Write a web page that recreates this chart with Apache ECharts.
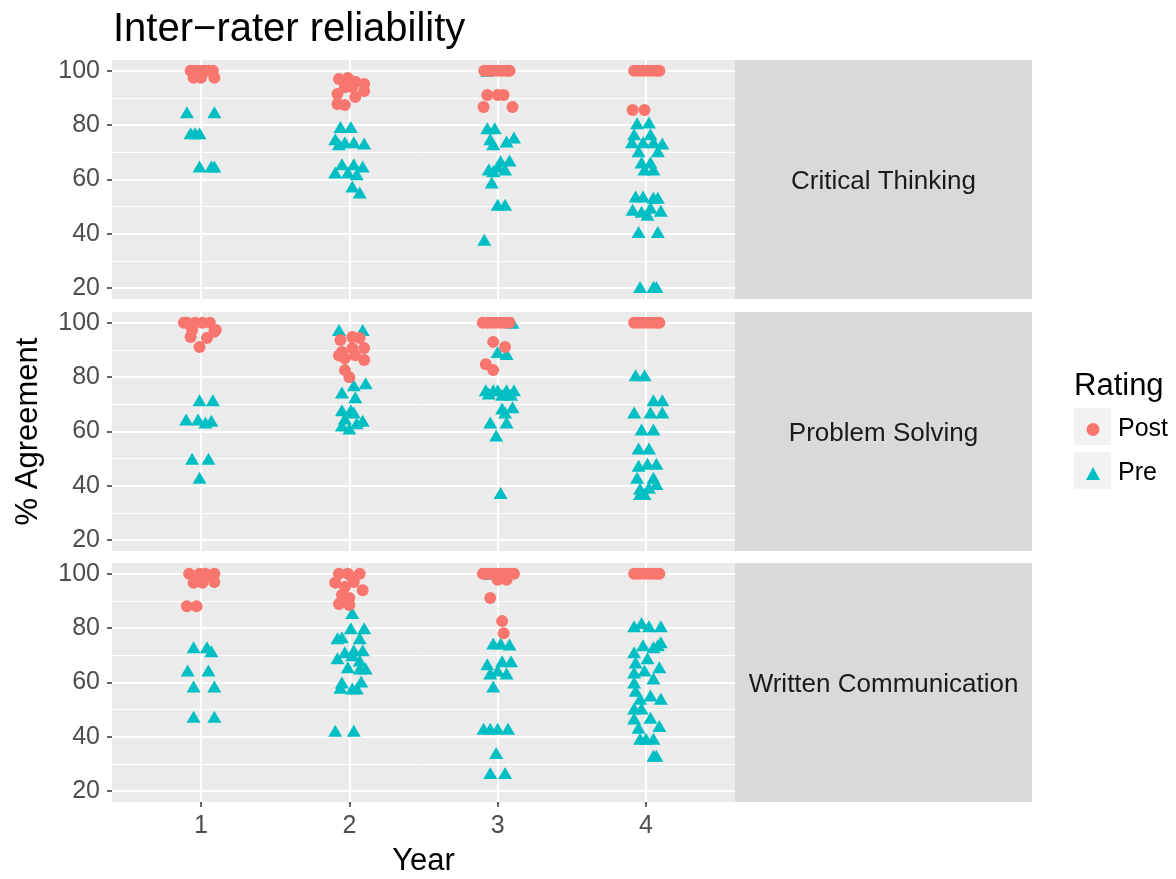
<!DOCTYPE html>
<html>
<head>
<meta charset="utf-8">
<title>Inter-rater reliability</title>
<script src="https://cdn.jsdelivr.net/npm/echarts@6/dist/echarts.min.js"></script>
<style>
  html, body { margin: 0; padding: 0; background: #fff; }
  #chart { width: 1176px; height: 879px; }
</style>
</head>
<body>
<div id="chart"></div>
<script>
// facets, ticks
var facets = ['Critical Thinking', 'Problem Solving', 'Written Communication'];
var yearTicks = [1, 2, 3, 4];
var majorTicks = [20, 40, 60, 80, 100];
var minorTicks = [30, 50, 70, 90];

// points: [year + jitter, % agreement]
// Critical Thinking
var ctPost = [
  [0.93,100],[0.96,100],[0.99,100],[1.02,100],[1.05,100],[1.08,100],[0.95,97.5],[1.0,97.5],[1.09,97.5],
  [1.93,97],[1.99,97.4],[2.04,96],[2.10,95.2],[2.10,92.6],[1.92,91.5],[1.97,94],[2.04,90.4],[1.92,87.8],[1.97,87.4],[2.02,94],
  [2.91,100],[2.94,100],[2.97,100],[3.0,100],[3.03,100],[3.06,100],[3.08,100],[2.93,91.1],[3.0,91.1],[3.04,91.1],[2.905,86.7],[3.10,86.7],
  [3.92,100],[3.95,100],[3.98,100],[4.01,100],[4.04,100],[4.07,100],[4.09,100],[3.91,85.6],[3.99,85.6]
];
var ctPre = [
  [0.905,84.8],[1.09,84.8],[0.93,77],[0.96,77],[0.99,77],[0.99,64.8],[1.07,64.8],[1.09,64.8],
  [1.94,79.3],[2.01,79.3],[1.905,74.8],[1.97,73.7],[2.03,73.7],[2.10,73.3],[1.95,65.6],[2.03,65.6],[2.09,64.8],
  [1.905,62.6],[1.99,62.6],[2.02,57.4],[2.07,55.2],[2.05,61.9],[1.93,73],
  [2.93,100],[2.93,78.9],[2.98,78.9],[2.95,74.8],[3.06,74],[3.11,75.5],[2.97,73],[3.02,66.7],[3.08,67],[2.97,63],
  [3.05,63.7],[2.94,63.7],[2.96,58.9],[3.0,50.7],[3.05,50.7],[2.91,37.8],[3.0,64.8],
  [3.94,80.7],[4.02,81],[3.92,76.7],[4.03,76.7],[3.905,73.7],[3.98,73.7],[4.05,73.7],[4.11,73.3],[3.95,70.4],[4.08,70.4],
  [3.97,66.3],[4.03,66.3],[3.99,63.7],[4.05,63.7],[3.93,53.7],[3.98,53.7],[4.05,53.3],[4.08,53.3],[3.91,48.9],[3.97,48.1],
  [4.03,49.6],[4.10,48.5],[3.95,40.7],[4.08,40.7],[3.96,20.4],[4.05,20.4],[4.07,20.4],[4.01,47]
];
// Problem Solving
var psPost = [
  [0.885,100],[0.905,100],[0.96,100],[1.01,100],[1.06,100],[1.09,96.7],[0.93,94.8],[1.04,94.4],[0.99,91.1],[0.94,97.4],[1.1,97.4],
  [1.94,93.7],[2.02,94.8],[2.07,94.4],[1.95,89.3],[2.02,90.7],[2.10,90.7],[2.10,86.3],[1.97,87],[2.04,88.1],[1.97,82.6],[2.0,80],[1.93,88],
  [2.9,100],[2.93,100],[2.96,100],[2.99,100],[3.02,100],[3.05,100],[3.08,100],[2.97,93],[3.05,91.1],[2.92,84.8],[2.97,82.6],
  [3.92,100],[3.95,100],[3.98,100],[4.01,100],[4.04,100],[4.07,100],[4.09,100]
];
var psPre = [
  [0.99,71.5],[1.08,71.5],[0.9,64.4],[0.98,64.4],[1.03,63.3],[1.07,64],[0.94,50],[1.05,50],[0.99,43],
  [1.93,97.4],[2.09,97.4],[2.11,77.8],[2.03,77],[1.95,74.4],[2.04,72.6],[1.95,67.8],[2.01,67.8],[2.09,64],[1.95,62.2],
  [2.0,61.1],[2.05,63],[1.97,64.8],[2.03,67],
  [3.1,100],[3.0,89.3],[3.06,88.5],[2.92,75.2],[2.97,75.2],[3.0,75.2],[3.06,75.2],[3.11,75.2],[2.94,74],[3.03,73.5],
  [3.09,73.5],[3.03,68.5],[3.1,68.9],[2.95,63.3],[3.06,63.3],[2.99,58.5],[3.02,37.4],[3.05,67],
  [3.93,80.7],[3.99,80.7],[4.05,71.5],[4.11,71.5],[3.92,67],[4.03,67],[4.11,67],[3.97,60.7],[4.05,60.7],[3.95,53.7],
  [4.02,53.7],[3.95,47.4],[4.01,48.1],[4.07,48.1],[3.94,43],[4.05,43],[4.07,40.7],[3.96,38.9],[3.99,37],[4.02,39.3],[3.96,37]
];
// Written Communication
var wcPost = [
  [0.92,100],[0.99,100],[1.03,100],[1.09,100],[0.95,96.7],[1.01,96.7],[1.09,97],[0.905,88.1],[0.97,88.1],[1.06,98.9],
  [1.93,100],[1.99,100],[2.07,100],[1.905,96.7],[1.97,95.2],[2.03,97],[2.09,94],[1.95,92.2],[2.0,91.1],[1.93,88.9],[2.0,88.5],[2.02,98.5],
  [2.9,100],[2.93,100],[2.96,100],[2.99,100],[3.02,100],[3.05,100],[3.08,100],[3.11,100],[3.0,97.8],[3.06,97.8],[2.95,91.1],[3.03,82.6],[3.04,78.1],
  [3.92,100],[3.95,100],[3.98,100],[4.01,100],[4.04,100],[4.07,100],[4.09,100]
];
var wcPre = [
  [0.95,73],[1.04,73],[1.07,71.5],[0.91,64.4],[1.05,64.4],[0.95,58.5],[1.09,58.5],[0.95,47.4],[1.09,47.4],
  [2.02,85.6],[2.10,80],[2.01,80],[1.92,76.3],[1.95,76.7],[2.07,76.3],[1.97,71.1],[2.03,71.9],[2.09,71.9],[1.92,68.9],
  [2.02,70],[2.07,68.1],[1.99,65.6],[2.07,65.2],[2.11,65.2],[1.95,60],[2.08,60.4],[1.94,58.1],[2.02,57.8],[2.05,57.8],
  [1.905,42.2],[2.03,42.2],
  [2.95,100],[3.03,100],[2.97,74.4],[3.02,74.4],[3.08,74],[2.93,66.7],[3.03,67.8],[3.09,67.8],[2.95,63.3],[3.06,63.3],
  [2.97,58.5],[2.905,43],[2.95,43],[3.0,43],[3.07,43],[2.99,34],[2.95,26.7],[3.05,26.7],[3.0,64.4],
  [3.92,80.7],[3.97,81.9],[4.02,80.7],[4.10,80.7],[3.92,71.1],[3.98,73.7],[4.05,73],[4.10,74.8],[3.93,67.4],[4.01,68.9],
  [4.09,65.6],[3.92,63.7],[3.99,64.4],[4.05,61.5],[3.92,60],[3.93,57],[4.03,55.2],[4.10,54],[3.96,54],[3.92,50.4],
  [3.97,50.4],[4.03,47],[3.92,46.7],[3.95,43.3],[4.09,44],[3.96,39.3],[4.0,39.3],[4.05,39.3],[4.05,33],[4.07,33],[4.08,73.7]
];

var postData = [ctPost, psPost, wcPost];
var preData = [ctPre, psPre, wcPre];

var FONT = '"Liberation Sans", Arial, sans-serif';
var panelLeft = 112, panelWidth = 623, panelHeight = 239;
var panelTops = [60, 312, 563];
var stripWidth = 297;

var grids = [], xAxes = [], yAxes = [], series = [], graphics = [];

for (var i = 0; i < facets.length; i++) {
  var last = i === facets.length - 1;
  grids.push({
    left: panelLeft, top: panelTops[i], width: panelWidth, height: panelHeight,
    show: true, backgroundColor: '#EBEBEB', borderWidth: 0
  });
  xAxes.push({
    type: 'value', gridIndex: i, min: 0.4, max: 4.6,
    name: last ? 'Year' : '',
    nameLocation: 'middle', nameGap: 44,
    nameTextStyle: { fontSize: 31, color: '#000', fontFamily: FONT },
    axisLine: { show: false },
    axisTick: { show: last, customValues: yearTicks, length: 5, lineStyle: { color: '#333', width: 1.5 } },
    axisLabel: { show: last, customValues: yearTicks, fontSize: 25, color: '#4D4D4D', margin: 12, fontFamily: FONT },
    splitLine: { show: true, lineStyle: { color: '#fff', width: 2 } }
  });
  // major
  yAxes.push({
    type: 'value', gridIndex: i, min: 16, max: 104, position: 'left',
    name: i === 1 ? '% Agreement' : '',
    nameLocation: 'middle', nameGap: 68, nameRotate: 90,
    nameTextStyle: { fontSize: 31, color: '#000', fontFamily: FONT },
    axisLine: { show: false },
    axisTick: { show: true, customValues: majorTicks, length: 5, lineStyle: { color: '#333', width: 1.5 } },
    axisLabel: { customValues: majorTicks, fontSize: 25, color: '#4D4D4D', margin: 12, fontFamily: FONT },
    splitLine: { show: true, lineStyle: { color: '#fff', width: 2 } }
  });
  // minor
  yAxes.push({
    type: 'value', gridIndex: i, min: 16, max: 104, position: 'left',
    axisLine: { show: false },
    axisTick: { show: false, customValues: minorTicks },
    axisLabel: { show: false, customValues: minorTicks },
    splitLine: { show: true, lineStyle: { color: '#fff', width: 1 } }
  });

  series.push({
    name: 'Pre', type: 'scatter', xAxisIndex: i, yAxisIndex: 2 * i,
    symbol: 'triangle', symbolSize: [14, 12],
    itemStyle: { color: '#00BFC4', opacity: 1 },
    data: preData[i], z: 3
  });
  series.push({
    name: 'Post', type: 'scatter', xAxisIndex: i, yAxisIndex: 2 * i,
    symbol: 'circle', symbolSize: 12,
    itemStyle: { color: '#F8766D', opacity: 1 },
    data: postData[i], z: 4
  });

  // strip on the right of each panel
  graphics.push({
    type: 'rect', silent: true,
    shape: { x: panelLeft + panelWidth, y: panelTops[i], width: stripWidth, height: panelHeight },
    style: { fill: '#D9D9D9' }
  });
  graphics.push({
    type: 'text', silent: true,
    x: panelLeft + panelWidth + stripWidth / 2, y: panelTops[i] + panelHeight / 2 + 2,
    style: { text: facets[i], fill: '#1A1A1A', font: '26px ' + FONT, align: 'center', verticalAlign: 'middle' }
  });
}

// legend keys
graphics.push({ type: 'text', silent: true, x: 1074, y: 386,
  style: { text: 'Rating', fill: '#000', font: '31px ' + FONT, verticalAlign: 'middle' } });
graphics.push({ type: 'rect', silent: true, shape: { x: 1074, y: 408, width: 37, height: 37 }, style: { fill: '#F2F2F2' } });
graphics.push({ type: 'rect', silent: true, shape: { x: 1074, y: 452, width: 37, height: 37 }, style: { fill: '#F2F2F2' } });

var option = {
  animation: false,
  backgroundColor: '#fff',
  textStyle: { fontFamily: FONT },
  title: {
    text: 'Inter\u2212rater reliability',
    left: 108, top: 5,
    textStyle: { fontSize: 40, fontWeight: 'normal', color: '#000', fontFamily: FONT }
  },
  legend: {
    data: ['Post', 'Pre'],
    orient: 'vertical', left: 1086, top: 417, padding: 0,
    itemWidth: 14, itemHeight: 13, itemGap: 19,
    textStyle: { fontSize: 25, color: '#000', fontFamily: FONT, padding: [0, 0, 0, 13] },
    selectedMode: false
  },
  grid: grids,
  xAxis: xAxes,
  yAxis: yAxes,
  series: series,
  graphic: graphics
};

var chart = echarts.init(document.getElementById('chart'));
chart.setOption(option);
</script>
</body>
</html>
